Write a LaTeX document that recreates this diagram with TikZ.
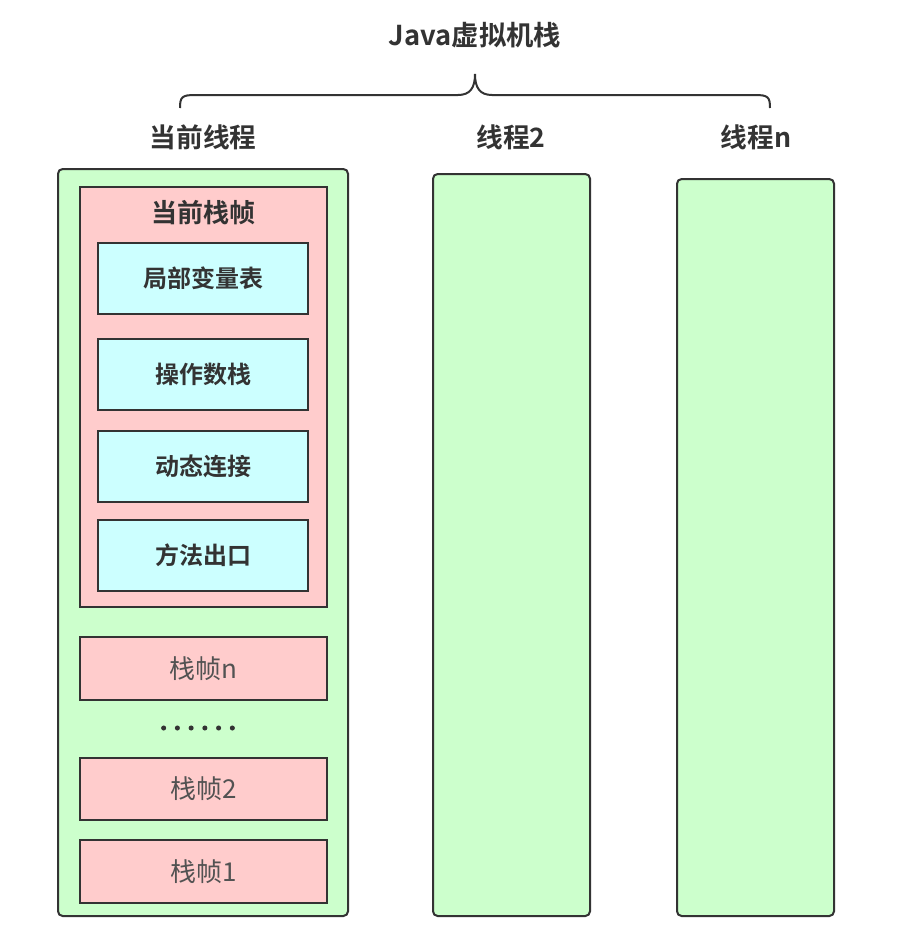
\documentclass[tikz,border=0pt]{standalone}
\usepackage{fontspec}
\newfontfamily\cjk{Noto Sans CJK SC}
\newfontfamily\cjkb{Noto Sans CJK SC Bold}
\definecolor{gfill}{HTML}{CCFFCC}
\definecolor{pfill}{HTML}{FFCCCC}
\definecolor{cfill}{HTML}{CCFFFF}
\definecolor{strk}{HTML}{333333}
\definecolor{txt}{HTML}{333333}
\begin{document}
\begin{tikzpicture}[x=0.75pt,y=-0.75pt,
  thread/.style={draw=strk,fill=gfill,line width=1.5pt,rounded corners=3.5pt,inner sep=0pt},
  frame/.style={draw=strk,fill=pfill,line width=1.5pt,inner sep=0pt,minimum width=185.25pt,text=txt!85!white,font=\cjk\fontsize{19.5}{22}\selectfont},
  part/.style={draw=strk,fill=cfill,line width=1.5pt,inner sep=0pt,minimum width=157.5pt,minimum height=53.25pt,text=txt,font=\cjkb\fontsize{18}{21}\selectfont},
  head/.style={text=txt,font=\cjkb\fontsize{20}{23}\selectfont,inner sep=0pt}]
\useasboundingbox[fill=white] (0,0) rectangle (905,932);
% titles
\node[head,font=\cjkb\fontsize{20.5}{24}\selectfont] (title) at (475,35) {Java虚拟机栈};
\node[head] (t1) at (203,137) {当前线程};
\node[head] (t2) at (511,137) {线程2};
\node[head] (t3) at (756,137) {线程n};
% brace
\draw[strk,line width=1.5pt] (180,108) .. controls (180,97) and (182,95) .. (195,95) -- (458,95)
  .. controls (470,95) and (475,88) .. (475,74)
  .. controls (475,88) and (480,95) .. (492,95) -- (755,95)
  .. controls (768,95) and (770,97) .. (770,108);
% thread boxes
\node[thread,minimum width=217.5pt,minimum height=560.25pt] (th1) at (203,542.5) {};
\node[thread,minimum width=117.75pt,minimum height=556.5pt] (th2) at (511.5,545) {};
\node[thread,minimum width=117.75pt,minimum height=552.75pt] (th3) at (755.5,547.5) {};
% current frame
\node[frame,minimum height=315pt] (cur) at (203.5,397) {};
\node[head,font=\cjkb\fontsize{19.5}{22}\selectfont] (curl) at (203,213) {当前栈帧};
\node[part] (p1) at (203,278.5) {局部变量表};
\node[part] (p2) at (203,374) {操作数栈};
\node[part] (p3) at (203,466.5) {动态连接};
\node[part] (p4) at (203,555.5) {方法出口};
% frames
\node[frame,minimum height=47.25pt] (fn) at (203.5,668.5) {栈帧n};
\node[text=txt,inner sep=0pt] (dots) at (198,728) {\tikz\foreach \i in {0,...,5} \fill[strk] (\i*10.3pt,0) circle (1.9pt);};
\node[frame,minimum height=46.5pt] (f2) at (203.5,789) {栈帧2};
\node[frame,minimum height=47.25pt] (f1) at (203.5,871.5) {栈帧1};
\end{tikzpicture}
\end{document}
